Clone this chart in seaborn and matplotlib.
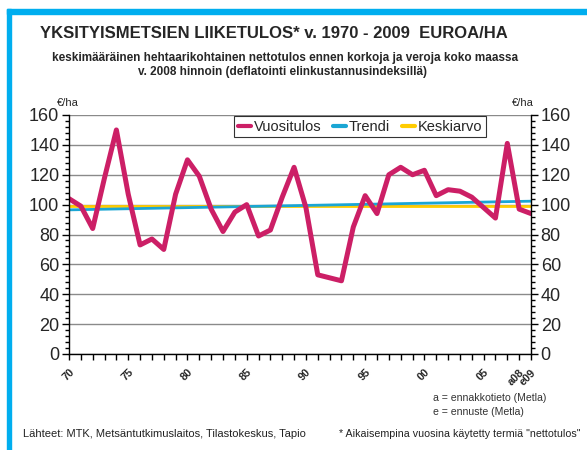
import numpy as np
import pandas as pd
import matplotlib
matplotlib.use("Agg")
import matplotlib.pyplot as plt
from matplotlib.patches import Rectangle
import seaborn as sns

# data
years = list(range(1970, 2010))
vuositulos = [104, 99, 84, 118, 150, 107, 73, 77, 70, 107,
              130, 119, 97, 82, 95, 100, 79, 83, 105, 125,
              98, 53, 51, 49, 85, 106, 94, 120, 125, 120,
              123, 106, 110, 109, 105, 98, 91, 141, 97, 94]
trend_years = [1970, 2009]
trend_values = [96.5, 102.3]
mean_value = 99.2
tick_years = [1970, 1975, 1980, 1985, 1990, 1995, 2000, 2005, 2008, 2009]
tick_labels = ["70", "75", "80", "85", "90", "95", "00", "05", "a08", "e09"]

c_main = "#CC1F66"
c_trend = "#1AA6D4"
c_mean = "#FFCC00"

sns.set_style("white")
plt.rcParams['font.family'] = ['Liberation Sans', 'DejaVu Sans']

df = pd.DataFrame({"vuosi": years, "Vuositulos": vuositulos})
df_trend = pd.DataFrame({"vuosi": trend_years, "Trendi": trend_values})
df_mean = pd.DataFrame({"vuosi": [years[0], years[-1]], "Keskiarvo": [mean_value, mean_value]})

fig = plt.figure(figsize=(5.87, 4.5), dpi=100)
ax = fig.add_axes([69 / 587, 1 - 354 / 450, 462 / 587, 239 / 450])

sns.lineplot(data=df_mean, x="vuosi", y="Keskiarvo", ax=ax, color=c_mean, lw=2, label="Keskiarvo")
sns.lineplot(data=df_trend, x="vuosi", y="Trendi", ax=ax, color=c_trend, lw=2, label="Trendi")
sns.lineplot(data=df, x="vuosi", y="Vuositulos", ax=ax, color=c_main, lw=3.6, label="Vuositulos")

ax.set_xlim(1970, 2009)
ax.set_ylim(0, 160)
ax.set_xlabel("")
ax.set_ylabel("")

# grid
ax.set_yticks(range(0, 161, 20))
ax.set_yticks(range(0, 161, 4), minor=True)
ax.yaxis.grid(True, color="#8a8a8a", lw=1)
ax.set_axisbelow(True)
for side in ["left", "right", "bottom"]:
    ax.spines[side].set_visible(True)
    ax.spines[side].set_color("black")
    ax.spines[side].set_linewidth(1)
ax.spines["top"].set_visible(False)

ax.tick_params(axis="y", which="both", direction="out", left=True, right=True,
               labelleft=True, labelright=True, labelsize=13, color="black")
ax.tick_params(axis="y", which="major", length=5, width=1, pad=2)
ax.tick_params(axis="y", which="minor", length=3, width=1)

ax.set_xticks(years, minor=True)
ax.set_xticks(tick_years)
ax.set_xticklabels(tick_labels, rotation=45, ha="right", rotation_mode="anchor",
                   fontsize=7.8, fontweight="bold")
ax.tick_params(axis="x", which="both", direction="out", bottom=True, length=4.5, width=1, color="black")
ax.tick_params(axis="x", which="major", pad=5)

handles, labels = ax.get_legend_handles_labels()
order = [2, 1, 0]
leg = ax.legend([handles[i] for i in order], [labels[i] for i in order], ncol=3,
                loc="upper center", bbox_to_anchor=(0.63, 0.995), fontsize=10.5,
                frameon=True, fancybox=False, edgecolor="black", handlelength=0.9,
                handletextpad=0.2, columnspacing=0.8, borderpad=0.25, borderaxespad=0)
leg.get_frame().set_linewidth(0.8)
for line in leg.get_lines():
    line.set_linewidth(3)

fig.text(68 / 587, 1 - 103 / 450, "€/ha", fontsize=8, ha="center", va="center")
fig.text(523 / 587, 1 - 103 / 450, "€/ha", fontsize=8, ha="center", va="center")

fig.text(274 / 587, 1 - 33 / 450, "YKSITYISMETSIEN LIIKETULOS* v. 1970 - 2009  EUROA/HA",
         fontsize=12, fontweight="bold", ha="center", va="center")
fig.text(285 / 587, 1 - 58 / 450, "keskimääräinen hehtaarikohtainen nettotulos ennen korkoja ja veroja koko maassa",
         fontsize=8.5, fontweight="bold", ha="center", va="center")
fig.text(283 / 587, 1 - 72 / 450, "v. 2008 hinnoin (deflatointi elinkustannusindeksillä)",
         fontsize=8.5, fontweight="bold", ha="center", va="center")

fig.text(433 / 587, 1 - 398 / 450, "a = ennakkotieto (Metla)", fontsize=7.6, color="#333333", va="center")
fig.text(433 / 587, 1 - 412 / 450, "e = ennuste (Metla)", fontsize=7.6, color="#333333", va="center")
fig.text(23 / 587, 1 - 434 / 450, "Lähteet: MTK, Metsäntutkimuslaitos, Tilastokeskus, Tapio",
         fontsize=8, color="#222222", va="center")
fig.text(339 / 587, 1 - 434 / 450, "* Aikaisempina vuosina käytetty termiä \"nettotulos\"",
         fontsize=7.7, color="#222222", va="center")

# blue frame on top and left
frame = "#00AEEF"
fig.patches.append(Rectangle((7 / 587, 1 - 14 / 450), 580 / 587, 5 / 450,
                             transform=fig.transFigure, color=frame, zorder=5))
fig.patches.append(Rectangle((7 / 587, 0), 4 / 587, 1 - 9 / 450,
                             transform=fig.transFigure, color=frame, zorder=5))

fig.savefig("out.png", dpi=100)
